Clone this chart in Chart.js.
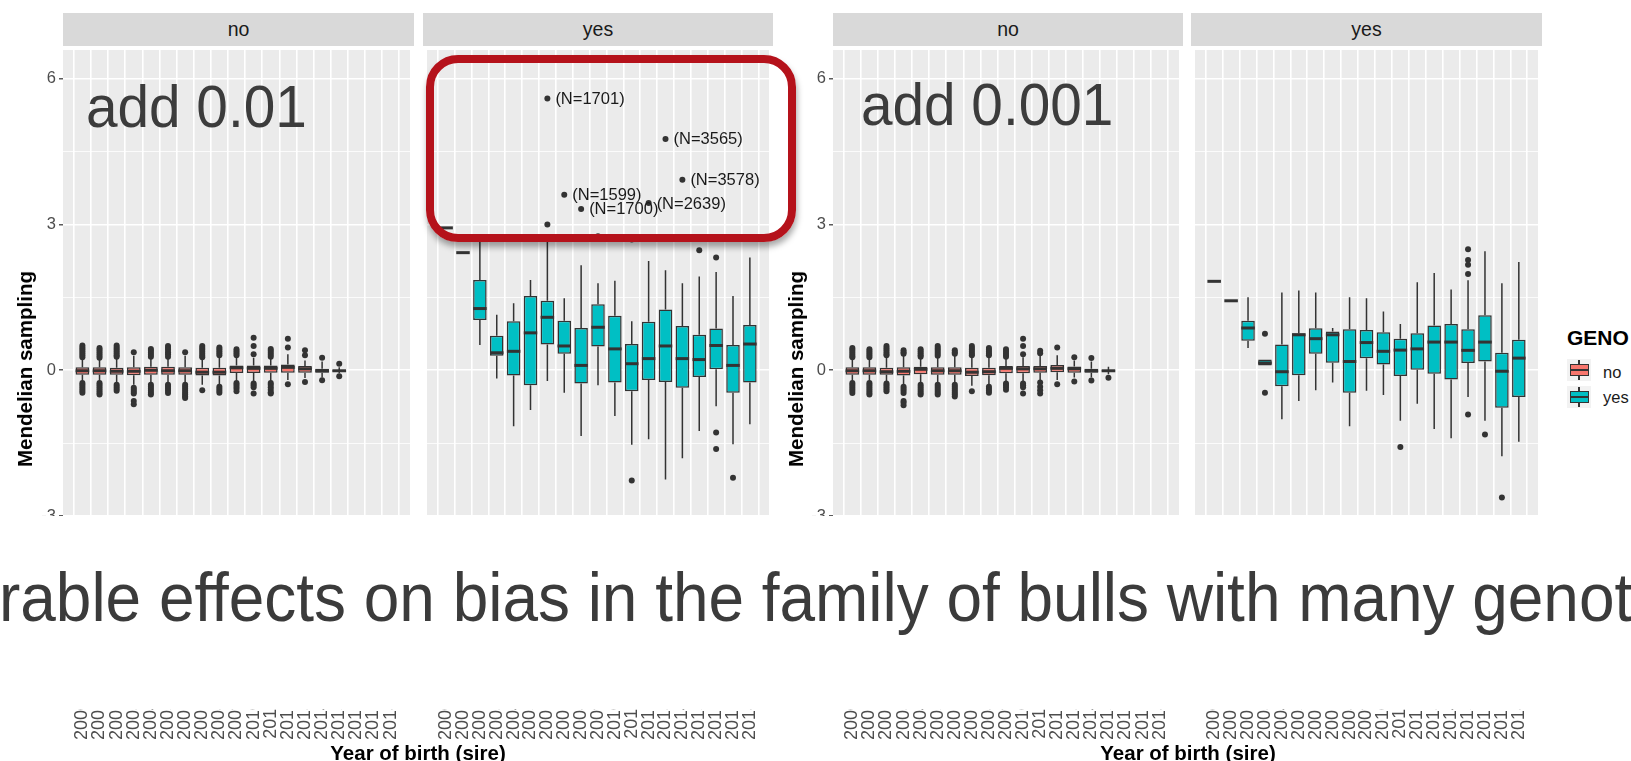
<!DOCTYPE html>
<html>
<head>
<meta charset="utf-8">
<title>Mendelian sampling boxplots</title>
<script src="https://cdn.jsdelivr.net/npm/chart.js@4.4.0/dist/chart.umd.min.js"></script>
<style>
  body { margin: 0; background: #fff; font-family: 'Liberation Sans', Arial, sans-serif; }
  #stage { position: relative; width: 1631px; height: 761px; overflow: hidden; }
  .strip { position: absolute; top: 13px; height: 33px; background: #D9D9D9; color: #1A1A1A;
           font-size: 19.5px; line-height: 33px; text-align: center; }
  canvas { position: absolute; top: 46px; }
  .ytitle { position: absolute; top: 369px; font-weight: bold; font-size: 20.5px; white-space: nowrap;
            transform: translate(-50%, -50%) rotate(-90deg); color: #000; }
  .xtitle { position: absolute; top: 753px; font-weight: bold; font-size: 20.5px; white-space: nowrap;
            transform: translate(-50%, -50%); color: #000; }
  .note { position: absolute; font-size: 60px; line-height: 60px; color: #3C3C3C; white-space: nowrap;
          transform: scaleX(0.945); transform-origin: left top; z-index: 4; }
  #band { position: absolute; left: 0; top: 516px; width: 1631px; height: 193px; background: #fff; z-index: 5; }
  #band span { position: absolute; left: -1px; top: 47px; font-size: 68px; line-height: 68px; color: #3B3B3B;
               white-space: nowrap; transform: scaleX(0.94); transform-origin: left top; }
  #frame { position: absolute; left: 426px; top: 55px; width: 370px; height: 187px; box-sizing: border-box;
           border: 8px solid #B5121B; border-radius: 32px; box-shadow: 1px 5px 6px rgba(0,0,0,0.35); z-index: 6; }
  .legtitle { position: absolute; left: 1567px; top: 327px; font-weight: bold; font-size: 21px; line-height: 21px; }
  .key { position: absolute; left: 1567px; width: 24px; height: 22px; background: #F2F2F2; }
  .key .wh { position: absolute; left: 11.25px; top: 1px; width: 1.5px; height: 20px; background: #333; }
  .key .bx { position: absolute; left: 2.5px; top: 5px; width: 19px; height: 12px; box-sizing: border-box; border: 1.5px solid #333; }
  .key .md { position: absolute; left: 2.5px; top: 10px; width: 19px; height: 2px; background: #333; }
  .keylab { position: absolute; left: 1603px; font-size: 16.5px; line-height: 20px; color: #1A1A1A; }
</style>
</head>
<body>
<div id="stage">
  <div class="strip" style="left:63px;width:351px">no</div>
  <div class="strip" style="left:423px;width:350px">yes</div>
  <div class="strip" style="left:833px;width:350px">no</div>
  <div class="strip" style="left:1191px;width:351px">yes</div>

  <canvas id="leftNo" width="414" height="696" style="left:0px"></canvas>
  <canvas id="leftYes" width="350" height="696" style="left:423px"></canvas>
  <canvas id="rightNo" width="380" height="696" style="left:803px"></canvas>
  <canvas id="rightYes" width="351" height="696" style="left:1191px"></canvas>

  <div class="ytitle" style="left:25px">Mendelian sampling</div>
  <div class="ytitle" style="left:796px">Mendelian sampling</div>
  <div class="xtitle" style="left:418px">Year of birth (sire)</div>
  <div class="xtitle" style="left:1188px">Year of birth (sire)</div>

  <div class="legtitle">GENO</div>
  <div class="key" style="top:359px"><div class="wh"></div><div class="bx" style="background:#F8766D"></div><div class="md"></div></div>
  <div class="key" style="top:386px"><div class="wh"></div><div class="bx" style="background:#00BFC4"></div><div class="md"></div></div>
  <div class="keylab" style="top:362px">no</div>
  <div class="keylab" style="top:387px">yes</div>

  <div class="note" style="left:86px;top:77px">add 0.01</div>
  <div class="note" style="left:861px;top:75px">add 0.001</div>

  <div id="frame"></div>
  <div id="band"><span>rable effects on bias in the family of bulls with many genot</span></div>
</div>

<script>
// ============================================================================
// Data
// ============================================================================

const YEARS = ['2000', '2001', '2002', '2003', '2004', '2005', '2006', '2007', '2008', '2009',
               '2010', '2011', '2012', '2013', '2014', '2015', '2016', '2017', '2018'];

const Y_TICKS = [-6, -4.5, -3, -1.5, 0, 1.5, 3, 4.5, 6];

// add 0.01, GENO = no
const LNO_Q1 = [-0.09, -0.09, -0.09, -0.10, -0.09, -0.09, -0.09, -0.11, -0.11, -0.055, -0.055, -0.05, -0.05, -0.05, -0.05, -0.03];
const LNO_MED = [-0.01, -0.01, -0.02, -0.02, 0.0, -0.01, -0.01, -0.04, -0.04, 0.05, 0.04, 0.04, 0.06, 0.03, -0.01, -0.01];
const LNO_Q3 = [0.06, 0.06, 0.05, 0.06, 0.07, 0.07, 0.06, 0.05, 0.05, 0.10, 0.10, 0.10, 0.12, 0.09, 0.03, 0.005];
const LNO_LO = [-0.23, -0.23, -0.26, -0.30, -0.26, -0.26, -0.26, -0.30, -0.28, -0.22, -0.22, -0.22, -0.20, -0.16, -0.15, -0.06];
const LNO_HI = [0.23, 0.23, 0.24, 0.30, 0.24, 0.24, 0.30, 0.24, 0.26, 0.26, 0.26, 0.24, 0.33, 0.20, 0.18, 0.06];
const LNO_OUT = [
  [0.51, 0.47, 0.43, 0.39, 0.35, 0.31, 0.27, -0.26, -0.30, -0.34, -0.38, -0.42, -0.46],
  [0.46, 0.42, 0.38, 0.34, 0.30, 0.26, -0.26, -0.30, -0.34, -0.38, -0.42, -0.46, -0.50],
  [0.51, 0.47, 0.43, 0.39, 0.35, 0.31, 0.28, -0.30, -0.34, -0.38, -0.42],
  [0.37, -0.36, -0.40, -0.44, -0.48, -0.63, -0.70],
  [0.44, 0.40, 0.36, 0.32, 0.28, -0.30, -0.34, -0.38, -0.42, -0.46, -0.50],
  [0.50, 0.46, 0.42, 0.37, 0.33, 0.28, -0.30, -0.34, -0.38, -0.42, -0.47],
  [0.37, -0.30, -0.34, -0.38, -0.42, -0.46, -0.50, -0.54, -0.57],
  [0.50, 0.46, 0.42, 0.38, 0.34, 0.30, 0.27, -0.41],
  [0.47, 0.43, 0.39, 0.35, 0.31, -0.34, -0.38, -0.42, -0.46],
  [0.43, 0.39, 0.35, 0.31, -0.26, -0.30, -0.34, -0.38, -0.43],
  [0.67, 0.50, 0.33, -0.27, -0.31, -0.35, -0.48],
  [0.44, 0.40, 0.36, 0.32, 0.28, -0.26, -0.30, -0.35, -0.40, -0.45, -0.48],
  [0.65, 0.47, -0.29],
  [0.41, 0.31, -0.24],
  [0.26, -0.205],
  [0.136, -0.123]
];

// add 0.01, GENO = yes
const LYES_Q1 = [2.93, 2.42, 1.035, 0.30, -0.11, -0.31, 0.53, 0.34, -0.27, 0.49, -0.25, -0.43, -0.20, -0.24, -0.36, -0.14, 0.02, -0.46, -0.25];
const LYES_MED = [2.93, 2.42, 1.27, 0.36, 0.39, 0.77, 1.09, 0.50, 0.10, 0.885, 0.44, 0.135, 0.24, 0.50, 0.24, 0.22, 0.51, 0.10, 0.54];
const LYES_Q3 = [2.93, 2.42, 1.86, 0.71, 1.01, 1.53, 1.43, 1.02, 0.87, 1.36, 1.12, 0.54, 1.00, 1.25, 0.91, 0.73, 0.86, 0.52, 0.93];
const LYES_LO = [2.93, 2.42, 0.52, -0.17, -1.15, -0.82, -0.22, -0.46, -1.35, -0.31, -0.94, -1.53, -1.42, -2.25, -1.81, -1.25, -0.74, -1.52, -1.11];
const LYES_HI = [2.93, 2.42, 2.79, 1.14, 1.38, 1.86, 2.72, 1.48, 2.16, 1.79, 1.84, 1.01, 2.25, 2.06, 1.79, 1.93, 2.02, 1.53, 2.32];
const LYES_OUT = [
  [], [], [], [], [], [],
  [3.0, 5.59],
  [3.61],
  [3.32],
  [2.76],
  [],
  [2.69, -2.27],
  [3.44],
  [4.76],
  [3.92],
  [2.47],
  [2.32, -1.28, -1.62],
  [-2.21],
  []
];
const LYES_NOTE_CAT = [6, 7, 8, 12, 13, 14];
const LYES_NOTE_VAL = [5.59, 3.61, 3.32, 3.44, 4.76, 3.92];
const LYES_NOTE_TXT = ['(N=1701)', '(N=1599)', '(N=1700)', '(N=2639)', '(N=3565)', '(N=3578)'];

// add 0.001, GENO = no
const RNO_Q1 = [-0.09, -0.09, -0.09, -0.11, -0.08, -0.09, -0.09, -0.12, -0.10, -0.06, -0.06, -0.05, -0.04, -0.05, -0.05, -0.02];
const RNO_MED = [-0.01, -0.01, -0.03, -0.02, 0.02, -0.01, -0.01, -0.04, -0.03, 0.04, 0.03, 0.03, 0.04, 0.03, -0.01, -0.01];
const RNO_Q3 = [0.06, 0.06, 0.05, 0.06, 0.07, 0.06, 0.06, 0.05, 0.05, 0.09, 0.09, 0.09, 0.11, 0.08, 0.03, 0.005];
const RNO_LO = [-0.23, -0.23, -0.24, -0.30, -0.26, -0.26, -0.26, -0.32, -0.29, -0.23, -0.22, -0.21, -0.20, -0.15, -0.15, -0.08];
const RNO_HI = [0.24, 0.24, 0.27, 0.30, 0.25, 0.26, 0.30, 0.27, 0.27, 0.25, 0.27, 0.30, 0.31, 0.20, 0.18, 0.07];
const RNO_OUT = [
  [0.46, 0.42, 0.38, 0.34, 0.30, 0.27, -0.26, -0.30, -0.34, -0.38, -0.42, -0.47],
  [0.43, 0.39, 0.35, 0.31, 0.27, -0.26, -0.30, -0.34, -0.38, -0.42, -0.46, -0.50],
  [0.50, 0.46, 0.42, 0.38, 0.34, 0.31, -0.27, -0.31, -0.35, -0.39, -0.43],
  [0.41, 0.37, 0.34, -0.34, -0.38, -0.42, -0.47, -0.63, -0.67, -0.72],
  [0.43, 0.39, 0.35, 0.31, 0.28, -0.30, -0.34, -0.38, -0.42, -0.46, -0.50],
  [0.50, 0.46, 0.42, 0.38, 0.34, 0.30, -0.30, -0.34, -0.38, -0.42, -0.46, -0.50],
  [0.41, 0.37, 0.34, -0.30, -0.34, -0.38, -0.42, -0.46, -0.50, -0.54],
  [0.50, 0.46, 0.42, 0.38, 0.34, 0.31, -0.43],
  [0.46, 0.42, 0.38, 0.34, 0.31, -0.34, -0.38, -0.42, -0.46],
  [0.43, 0.39, 0.35, 0.31, 0.28, -0.27, -0.31, -0.35, -0.40],
  [0.65, 0.50, 0.33, -0.27, -0.31, -0.35, -0.48],
  [0.40, 0.35, -0.25, -0.34, -0.41, -0.48],
  [0.47, -0.29],
  [0.27, -0.23],
  [0.25, -0.21],
  [-0.155]
];

// add 0.001, GENO = yes
const RYES_Q1 = [1.83, 1.43, 0.61, 0.10, -0.33, -0.10, 0.34, 0.155, -0.46, 0.245, 0.12, -0.12, 0.01, -0.07, -0.19, 0.15, 0.18, -0.77, -0.55];
const RYES_MED = [1.83, 1.43, 0.87, 0.15, -0.03, 0.73, 0.65, 0.73, 0.18, 0.57, 0.39, 0.415, 0.44, 0.58, 0.58, 0.41, 0.58, -0.02, 0.25];
const RYES_Q3 = [1.83, 1.43, 1.02, 0.22, 0.53, 0.76, 0.865, 0.80, 0.845, 0.83, 0.78, 0.65, 0.76, 0.92, 0.95, 0.845, 1.13, 0.36, 0.63];
const RYES_LO = [1.83, 1.43, 0.46, 0.10, -1.01, -0.63, -0.41, -0.25, -1.15, -0.42, -0.51, -1.04, -0.69, -1.21, -1.40, -0.55, -1.04, -1.77, -1.47];
const RYES_HI = [1.83, 1.43, 1.50, 0.22, 1.60, 1.64, 1.60, 0.87, 1.50, 1.48, 1.21, 0.95, 1.81, 2.00, 1.66, 1.85, 2.45, 1.79, 2.23];
const RYES_OUT = [
  [], [], [],
  [0.75, -0.46],
  [], [], [], [], [], [], [],
  [-1.58],
  [], [], [],
  [2.49, 2.27, 2.17, 1.98, -0.91],
  [-1.32],
  [-2.62],
  []
];

// ============================================================================
// Style
// ============================================================================

const FONT = "'Liberation Sans', Arial, sans-serif";
const FILL_NO = '#F8766D';
const FILL_YES = '#00BFC4';
const INK = '#333333';
const Y_MIN = -6.62;
const Y_MAX = 6.59;

Chart.defaults.font.family = FONT;

// ============================================================================
// Plugins
// ============================================================================

// grey panel behind the grid
const panelBackground = {
  id: 'panelBackground',
  beforeDraw(chart) {
    const { ctx, chartArea: a } = chart;
    ctx.save();
    ctx.fillStyle = '#EBEBEB';
    ctx.fillRect(a.left, a.top, a.right - a.left, a.bottom - a.top);
    ctx.restore();
  }
};

// whiskers and median lines on top of the floating bars
const boxParts = {
  id: 'boxParts',
  afterDatasetsDraw(chart) {
    const s = chart.data.datasets[0].stats;
    const meta = chart.getDatasetMeta(0);
    const y = chart.scales.y;
    const { ctx, chartArea: a } = chart;
    ctx.save();
    ctx.beginPath();
    ctx.rect(a.left, a.top, a.right - a.left, a.bottom - a.top);
    ctx.clip();
    ctx.strokeStyle = INK;
    meta.data.forEach((bar, i) => {
      const x = bar.x;
      const w = bar.width;
      ctx.lineWidth = 1.5;
      ctx.beginPath();
      ctx.moveTo(x, y.getPixelForValue(s.q3[i]));
      ctx.lineTo(x, y.getPixelForValue(s.hi[i]));
      ctx.moveTo(x, y.getPixelForValue(s.q1[i]));
      ctx.lineTo(x, y.getPixelForValue(s.lo[i]));
      ctx.stroke();
      const ym = y.getPixelForValue(s.med[i]);
      ctx.lineWidth = 3;
      ctx.beginPath();
      ctx.moveTo(x - w / 2, ym);
      ctx.lineTo(x + w / 2, ym);
      ctx.stroke();
    });
    ctx.restore();
  }
};

// "(N=...)" labels next to the highlighted outliers
const pointNotes = {
  id: 'pointNotes',
  afterDatasetsDraw(chart) {
    const notes = chart.data.datasets[0].notes;
    if (!notes) return;
    const { ctx, scales } = chart;
    ctx.save();
    ctx.font = '16.5px ' + FONT;
    ctx.fillStyle = '#1A1A1A';
    ctx.textBaseline = 'middle';
    notes.cat.forEach((c, i) => {
      const px = scales.x.getPixelForValue(c);
      const py = scales.y.getPixelForValue(notes.val[i]);
      ctx.fillText(notes.txt[i], px + 8, py + 1);
    });
    ctx.restore();
  }
};

// ============================================================================
// Panel builder
// ============================================================================

const makePanel = (canvasId, stats, out, fill, yWidth, notes) => {
  const showY = yWidth > 0;
  const boxes = stats.q1.map((v, i) => ({ x: i, y: [stats.q1[i], stats.q3[i]] }));
  const outliers = [];
  out.forEach((vals, i) => vals.forEach(v => outliers.push({ x: i, y: v })));

  return new Chart(document.getElementById(canvasId), {
    type: 'bar',
    data: {
      datasets: [
        {
          type: 'bar',
          data: boxes,
          stats,
          notes,
          backgroundColor: fill,
          borderColor: INK,
          borderWidth: 1.5,
          borderSkipped: false,
          barPercentage: 0.8,
          categoryPercentage: 1
        },
        {
          type: 'scatter',
          data: outliers,
          showLine: false,
          pointRadius: 3,
          pointBackgroundColor: INK,
          pointBorderWidth: 0
        }
      ]
    },
    options: {
      responsive: false,
      animation: false,
      events: [],
      layout: { padding: 0 },
      plugins: { legend: { display: false }, tooltip: { enabled: false } },
      scales: {
        x: {
          type: 'linear',
          min: -0.6,
          max: 18.6,
          afterBuildTicks: s => { s.ticks = YEARS.map((_, i) => ({ value: i })); },
          afterFit: s => { s.height = 50; s.paddingLeft = 0; s.paddingRight = 0; },
          ticks: {
            callback: v => YEARS[v],
            autoSkip: false,
            minRotation: 90,
            maxRotation: 90,
            color: '#4D4D4D',
            font: { size: 18 },
            padding: 4
          },
          grid: { color: '#FFFFFF', lineWidth: 1.6, tickLength: 4, tickColor: INK, tickWidth: 1.2 },
          border: { display: false }
        },
        y: {
          type: 'linear',
          min: Y_MIN,
          max: Y_MAX,
          afterBuildTicks: s => { s.ticks = Y_TICKS.map(v => ({ value: v })); },
          afterFit: s => { s.width = yWidth; s.paddingTop = 0; s.paddingBottom = 0; },
          ticks: {
            display: showY,
            callback: v => (v % 3 === 0 ? String(v) : ''),
            color: '#4D4D4D',
            font: { size: 16.5 },
            padding: 3
          },
          grid: {
            color: '#FFFFFF',
            lineWidth: c => (c.tick && c.tick.value % 3 === 0 ? 1.6 : 0.8),
            drawTicks: showY,
            tickLength: 4,
            tickColor: c => (c.tick && c.tick.value % 3 === 0 ? INK : 'rgba(0,0,0,0)'),
            tickWidth: 1.2
          },
          border: { display: false }
        }
      }
    },
    plugins: [panelBackground, boxParts, pointNotes]
  });
};

// ============================================================================
// Init
// ============================================================================

makePanel('leftNo',
  { q1: LNO_Q1, med: LNO_MED, q3: LNO_Q3, lo: LNO_LO, hi: LNO_HI }, LNO_OUT, FILL_NO, 63, null);
makePanel('leftYes',
  { q1: LYES_Q1, med: LYES_MED, q3: LYES_Q3, lo: LYES_LO, hi: LYES_HI }, LYES_OUT, FILL_YES, 0,
  { cat: LYES_NOTE_CAT, val: LYES_NOTE_VAL, txt: LYES_NOTE_TXT });
makePanel('rightNo',
  { q1: RNO_Q1, med: RNO_MED, q3: RNO_Q3, lo: RNO_LO, hi: RNO_HI }, RNO_OUT, FILL_NO, 30, null);
makePanel('rightYes',
  { q1: RYES_Q1, med: RYES_MED, q3: RYES_Q3, lo: RYES_LO, hi: RYES_HI }, RYES_OUT, FILL_YES, 0, null);
</script>
</body>
</html>
